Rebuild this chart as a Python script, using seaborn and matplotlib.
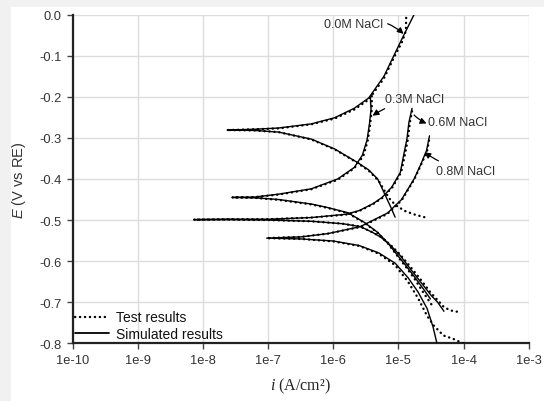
import numpy as np
import pandas as pd
import seaborn as sns
import matplotlib
matplotlib.use("Agg")
import matplotlib.pyplot as plt
from matplotlib.lines import Line2D
from matplotlib.ticker import FixedLocator, FixedFormatter, NullLocator

# ---------------- data ----------------
# 0.0M NaCl
i_sim_00 = [8.9e-6, 7.6e-6, 6.3e-6, 4.8e-6, 3.5e-6, 2.3e-6, 1.05e-6, 4.6e-7, 1.45e-7, 6.3e-8, 2.35e-8,
            6.3e-8, 1.45e-7, 4.6e-7, 1.05e-6, 2.1e-6, 3.5e-6, 6.0e-6, 8.5e-6, 1.2e-5, 1.74e-5]
E_sim_00 = [-0.493, -0.468, -0.440, -0.400, -0.378, -0.359, -0.327, -0.303, -0.286, -0.282, -0.281,
            -0.279, -0.276, -0.266, -0.251, -0.228, -0.203, -0.150, -0.100, -0.051, 0.0]
i_test_00 = [2.5e-5, 1.8e-5, 1.26e-5, 9.5e-6, 7.6e-6, 6.3e-6, 5.0e-6, 3.5e-6, 2.3e-6, 1.05e-6, 4.6e-7, 1.45e-7,
             6.3e-8, 2.3e-8, 6.3e-8, 1.45e-7, 4.6e-7, 1.05e-6, 2.1e-6, 3.5e-6, 6.0e-6, 8.5e-6, 1.15e-5,
             1.3e-5, 1.32e-5]
E_test_00 = [-0.493, -0.487, -0.478, -0.466, -0.452, -0.432, -0.405, -0.380, -0.360, -0.328, -0.304, -0.286,
             -0.282, -0.281, -0.279, -0.277, -0.267, -0.253, -0.231, -0.207, -0.155, -0.105, -0.065,
             -0.040, 0.0]

# 0.3M NaCl
i_sim_03 = [3.1e-5, 2.35e-5, 1.74e-5, 1.26e-5, 9.5e-6, 6.8e-6, 4.8e-6, 2.95e-6, 1.66e-6, 7.9e-7, 4.6e-7,
            1.45e-7, 6.3e-8, 2.8e-8,
            6.3e-8, 1.45e-7, 4.6e-7, 1.17e-6, 2.1e-6, 2.8e-6, 3.3e-6, 3.6e-6, 3.8e-6, 3.7e-6]
E_sim_03 = [-0.692, -0.665, -0.637, -0.608, -0.584, -0.555, -0.530, -0.505, -0.482, -0.469, -0.461,
            -0.450, -0.446, -0.445,
            -0.444, -0.437, -0.424, -0.400, -0.372, -0.342, -0.305, -0.265, -0.230, -0.200]
i_test_03 = [3.2e-5, 2.4e-5, 1.8e-5, 1.3e-5, 9.7e-6, 6.9e-6, 4.8e-6, 2.95e-6, 1.66e-6, 7.9e-7, 4.6e-7,
             1.45e-7, 6.3e-8, 2.8e-8,
             6.3e-8, 1.45e-7, 4.6e-7, 1.17e-6, 2.1e-6, 2.9e-6, 3.4e-6, 3.7e-6, 3.9e-6, 3.9e-6]
E_test_03 = [-0.705, -0.676, -0.645, -0.614, -0.588, -0.557, -0.531, -0.506, -0.483, -0.470, -0.462,
             -0.451, -0.446, -0.445,
             -0.444, -0.438, -0.425, -0.402, -0.374, -0.344, -0.305, -0.265, -0.230, -0.198]

# 0.6M NaCl
i_sim_06 = [5.0e-5, 4.0e-5, 3.2e-5, 2.2e-5, 1.58e-5, 1.07e-5, 7.6e-6, 5.4e-6, 4.0e-6, 2.6e-6, 1.4e-6,
            4.6e-7, 1.0e-7, 2.5e-8, 7.2e-9,
            2.5e-8, 1.0e-7, 4.6e-7, 1.55e-6, 2.5e-6, 4.1e-6, 5.6e-6, 7.9e-6, 1.07e-5, 1.2e-5, 1.35e-5,
            1.45e-5, 1.62e-5]
E_sim_06 = [-0.722, -0.700, -0.684, -0.651, -0.622, -0.587, -0.562, -0.542, -0.530, -0.516, -0.509,
            -0.503, -0.500, -0.499, -0.499,
            -0.498, -0.498, -0.494, -0.486, -0.477, -0.460, -0.445, -0.420, -0.384, -0.343, -0.303,
            -0.262, -0.228]
i_test_06 = [7.9e-5, 6.3e-5, 5.0e-5, 4.0e-5, 3.1e-5, 2.2e-5, 1.55e-5, 1.05e-5, 7.5e-6, 5.4e-6, 4.0e-6,
             2.6e-6, 1.4e-6, 4.6e-7, 1.0e-7, 2.5e-8, 7.2e-9,
             2.5e-8, 1.0e-7, 4.6e-7, 1.55e-6, 2.5e-6, 4.1e-6, 5.7e-6, 8.1e-6, 1.1e-5, 1.25e-5, 1.4e-5,
             1.5e-5, 1.66e-5]
E_test_06 = [-0.723, -0.720, -0.712, -0.695, -0.676, -0.645, -0.615, -0.583, -0.560, -0.541, -0.530,
             -0.516, -0.509, -0.503, -0.500, -0.499, -0.499,
             -0.498, -0.498, -0.494, -0.487, -0.478, -0.461, -0.446, -0.420, -0.384, -0.343, -0.303,
             -0.262, -0.226]

# 0.8M NaCl
i_sim_08 = [3.9e-5, 3.4e-5, 2.75e-5, 2.0e-5, 1.4e-5, 8.9e-6, 5.0e-6, 2.5e-6, 1.0e-6, 3.2e-7, 9.5e-8,
            3.2e-7, 8.3e-7, 2.6e-6, 6.8e-6, 1.12e-5, 1.74e-5, 2.2e-5, 2.7e-5, 3.0e-5]
E_sim_08 = [-0.800, -0.760, -0.715, -0.675, -0.640, -0.605, -0.580, -0.562, -0.551, -0.546, -0.544,
            -0.541, -0.533, -0.516, -0.483, -0.450, -0.400, -0.365, -0.331, -0.295]
i_test_08 = [9.8e-5, 6.9e-5, 4.9e-5, 3.5e-5, 2.75e-5, 2.0e-5, 1.4e-5, 8.9e-6, 5.0e-6, 2.5e-6, 1.0e-6,
             3.2e-7, 9.5e-8,
             3.2e-7, 8.3e-7, 2.6e-6, 6.8e-6, 1.12e-5, 1.74e-5, 2.2e-5, 2.75e-5, 3.0e-5]
E_test_08 = [-0.800, -0.789, -0.781, -0.757, -0.733, -0.690, -0.650, -0.610, -0.582, -0.563, -0.552,
             -0.546, -0.544,
             -0.541, -0.533, -0.517, -0.485, -0.452, -0.402, -0.367, -0.333, -0.300]

x_ticks = [1e-10, 1e-9, 1e-8, 1e-7, 1e-6, 1e-5, 1e-4, 1e-3]
x_tick_labels = ["1e-10", "1e-9", "1e-8", "1e-7", "1e-6", "1e-5", "1e-4", "1e-3"]
y_ticks = [0.0, -0.1, -0.2, -0.3, -0.4, -0.5, -0.6, -0.7, -0.8]
y_tick_labels = ["0.0", "-0.1", "-0.2", "-0.3", "-0.4", "-0.5", "-0.6", "-0.7", "-0.8"]

labels = ["0.0M NaCl", "0.3M NaCl", "0.6M NaCl", "0.8M NaCl"]

# ---------------- build table ----------------
rows = []
series = [
    ("0.0M", "test", i_test_00, E_test_00), ("0.0M", "sim", i_sim_00, E_sim_00),
    ("0.3M", "test", i_test_03, E_test_03), ("0.3M", "sim", i_sim_03, E_sim_03),
    ("0.6M", "test", i_test_06, E_test_06), ("0.6M", "sim", i_sim_06, E_sim_06),
    ("0.8M", "test", i_test_08, E_test_08), ("0.8M", "sim", i_sim_08, E_sim_08),
]
for conc, kind, ii, ee in series:
    for k, (a, b) in enumerate(zip(ii, ee)):
        rows.append({"conc": conc, "kind": kind, "order": k, "i": a, "E": b})
df = pd.DataFrame(rows)

# ---------------- figure ----------------
sns.set_style("whitegrid")
plt.rcParams["font.family"] = ["Liberation Sans", "DejaVu Sans"]
plt.rcParams["mathtext.fontset"] = "custom"
plt.rcParams["mathtext.it"] = "Liberation Sans:italic"
plt.rcParams["mathtext.bf"] = "Liberation Serif:italic"
plt.rcParams["mathtext.rm"] = "Liberation Sans"

DOT = (0, (0.1, 2.0))

fig = plt.figure(figsize=(5.44, 4.02), dpi=100)
fig.patch.set_facecolor("#f1f1f1")
fig.patches.append(plt.Rectangle((11 / 544, 0), 1, 1 - 8 / 402, transform=fig.transFigure,
                                 facecolor="white", edgecolor="none", zorder=-10))
ax = fig.add_axes([72.7 / 544, 1 - 344.3 / 402, 456 / 544, (344.3 - 15.6) / 402])
ax.set_facecolor("white")

for (conc, kind), sub in df.groupby(["conc", "kind"], sort=False):
    sub = sub.sort_values("order")
    if kind == "test":
        sns.lineplot(data=sub, x="i", y="E", sort=False, estimator=None, ax=ax, color="black",
                     lw=1.7, linestyle=DOT, dash_capstyle="round", zorder=3)
    else:
        sns.lineplot(data=sub, x="i", y="E", sort=False, estimator=None, ax=ax, color="black",
                     lw=1.0, zorder=4)

ax.set_xscale("log")
ax.set_xlim(1e-10, 1e-3)
ax.set_ylim(-0.8, 0.0)
ax.xaxis.set_major_locator(FixedLocator(x_ticks))
ax.xaxis.set_major_formatter(FixedFormatter(x_tick_labels))
ax.xaxis.set_minor_locator(NullLocator())
ax.yaxis.set_major_locator(FixedLocator(y_ticks))
ax.yaxis.set_major_formatter(FixedFormatter(y_tick_labels))

ax.grid(True, color="#dcdcdc", lw=1.0)
for s in ["top", "right"]:
    ax.spines[s].set_visible(False)
for s in ["left", "bottom"]:
    ax.spines[s].set_visible(True)
    ax.spines[s].set_color("#222222")
    ax.spines[s].set_linewidth(1.6)
ax.tick_params(axis="both", which="major", direction="out", length=4, width=1.0,
               color="#444444", labelsize=9.3, labelcolor="#333333", pad=4,
               bottom=True, left=True)

ax.set_ylabel(r"$E$ (V vs RE)", fontsize=10.5, color="#333333", labelpad=8)
ax.set_xlabel(r"$\mathbf{i}$ (A/cm²)", fontsize=11.5, color="#222222", family="Liberation Serif",
              labelpad=7)

# annotations
tkw = dict(fontsize=9, color="#333333", va="center", ha="left")
akw = dict(arrowstyle="-|>", color="black", lw=0.9, mutation_scale=9, shrinkA=1, shrinkB=0)
ax.annotate(labels[0], xy=(1.2e-5, -0.047), xytext=(7.2e-7, -0.023),
            arrowprops=dict(connectionstyle="arc3,rad=-0.3", **akw), **tkw)
ax.annotate(labels[1], xy=(4.0e-6, -0.246), xytext=(6.2e-6, -0.205),
            arrowprops=dict(connectionstyle="arc3,rad=0.1", **akw), **tkw)
ax.text(2.8e-5, -0.262, labels[2], **tkw)
ax.annotate("", xy=(2.7e-5, -0.265), xytext=(1.68e-5, -0.242),
            arrowprops=dict(connectionstyle="arc3,rad=0.1", **akw))
ax.annotate(labels[3], xy=(2.5e-5, -0.335), xytext=(3.8e-5, -0.38),
            arrowprops=dict(connectionstyle="arc3,rad=-0.1", **akw), **tkw)

handles = [Line2D([], [], color="black", lw=1.7, linestyle=DOT, dash_capstyle="round"),
           Line2D([], [], color="black", lw=1.3)]
leg = ax.legend(handles, ["Test results", "Simulated results"], loc="lower left",
                frameon=False, fontsize=10, handlelength=2.4, handletextpad=0.5,
                borderaxespad=0.1, borderpad=0.1, labelspacing=0.15)
for t in leg.get_texts():
    t.set_color("#111111")

fig.savefig("out.png", dpi=100, facecolor=fig.get_facecolor())
